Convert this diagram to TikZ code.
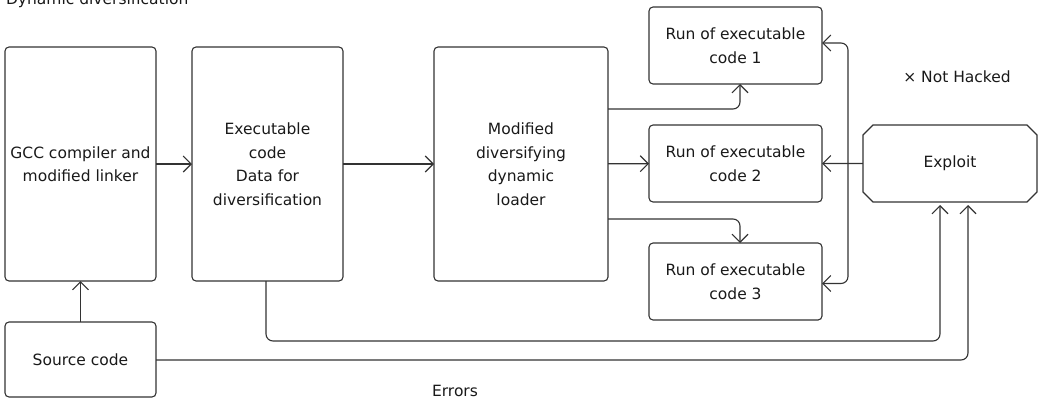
\documentclass[tikz,border=0pt]{standalone}
\usepackage{fontspec}
\setmainfont{DejaVu Sans}
\usetikzlibrary{arrows.meta, shapes.misc, positioning}

\begin{document}
\begin{tikzpicture}[x=1pt, y=-1pt,
    font=\fontsize{15.5}{23.5}\selectfont,
    every node/.style={text=black!90, align=center, inner sep=0pt, outer sep=0pt},
    box/.style={draw=black!80, line width=1.1pt, rounded corners=4pt},
    hack/.style={draw=black!80, line width=1.1pt, chamfered rectangle, chamfered rectangle xsep=5pt, chamfered rectangle ysep=5pt},
    link/.style={draw=black!80, line width=1.1pt, rounded corners=7pt, -{Straight Barb[length=8pt, width=16pt]}}]
                        \useasboundingbox (0,0) rectangle (1039,399);

                        \node[anchor=base west] (title) at (6,4.5) {Dynamic diversification};

                        \node[box, minimum width=151pt, minimum height=234pt] (gcc) at (80.5,164) {GCC compiler and\\modified linker};
                        \node[box, minimum width=151pt, minimum height=234pt] (exec) at (267.5,164) {Executable\\code\\Data for\\diversification};
                        \node[box, minimum width=174pt, minimum height=234pt] (loader) at (521,164) {Modified\\diversifying\\dynamic\\loader};
                        \node[box, minimum width=151pt, minimum height=75pt] (src) at (80.5,359.5) {Source code};

                        \node[box, minimum width=173pt, minimum height=77pt] (run1) at (735.5,45.5) {Run of executable\\code 1};
                        \node[box, minimum width=173pt, minimum height=77pt] (run2) at (735.5,163.5) {Run of executable\\code 2};
                        \node[box, minimum width=173pt, minimum height=77pt] (run3) at (735.5,281.5) {Run of executable\\code 3};
                        \node[hack, minimum width=174pt, minimum height=77pt] (exploit) at (950,163.5) {Exploit};

                        \node (nothacked) at (957,77) {× Not Hacked};
                        \node (errors) at (455,391) {Errors};

                        \coordinate (split) at (848,163.5);
                        \coordinate (lowa) at (940,341);
                        \coordinate (lowb) at (968,360);

                        \draw[link] (src) -- (gcc);
                        \draw[link] (gcc) -- (exec);
                        \draw[link] (exec) -- (loader);
                        \draw[link] (loader) -- (run2);
                        \draw[link] ([yshift=55pt]loader.east) -| ([xshift=4.5pt]run1.south);
                        \draw[link] ([yshift=-55pt]loader.east) -| ([xshift=4.5pt]run3.north);

                        \draw[link] (exploit) -- (run2);
                        \draw[link] (split) |- ([yshift=2.5pt]run1.east);
                        \draw[link] (split) |- ([yshift=-2pt]run3.east);

                        \draw[link] ([xshift=-1.5pt]exec.south) |- (lowa) -- ([xshift=-10pt, yshift=-3pt]exploit.south);
                        \draw[link] (src.east |- lowb) -- (lowb) -- ([xshift=18pt, yshift=-3pt]exploit.south);
                    \end{tikzpicture}
\end{document}
